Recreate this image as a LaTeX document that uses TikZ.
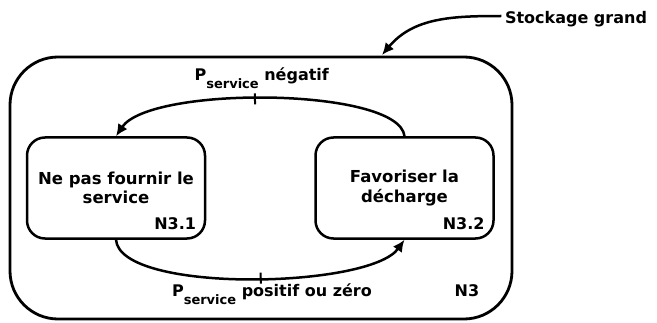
\documentclass[tikz,border=0pt]{standalone}
\usepackage{fontspec}
\setmainfont{DejaVu Sans}
\usetikzlibrary{arrows.meta,positioning}

% P with a lowered "service" index
\newcommand{\psrv}{P\raisebox{-8pt}{\fontsize{13}{13}\selectfont service}}

\begin{document}
\begin{tikzpicture}[x=1pt, y=1pt,
  font=\fontsize{16}{19.5}\selectfont\bfseries,
  node distance=10mm and 108pt,
  outerbox/.style={draw, line width=2.8pt, rounded corners=48pt,
                   minimum width=502pt, minimum height=262pt},
  mode/.style={draw, line width=2.5pt, rounded corners=18pt, align=center,
               minimum width=178pt, minimum height=101pt, inner sep=2pt,
               font=\fontsize{16.5}{19.5}\selectfont\bfseries},
  tag/.style={anchor=south east, inner sep=10pt},
  cond/.style={inner sep=1pt},
  tickmark/.style={draw, line width=2pt, inner sep=0pt,
                   minimum width=0pt, minimum height=11pt},
  arr/.style={-{Latex[length=12pt, width=11pt]}, line width=2.5pt}]
  \useasboundingbox (0,0) rectangle (657,322);
  \node[outerbox] (n3) at (261,134) {};
  \node (n3-id) at (467,31) {N3};
  \node[mode] (ne) at (116,134) {Ne pas fournir le\\ service};
  \node[mode, right=of ne] (fav) {Favoriser la\\ décharge};
  \node[tag] (ne-id) at (ne.south east) {N3.1};
  \node[tag] (fav-id) at (fav.south east) {N3.2};
  % transitions
  \draw[arr] (fav.north) .. controls +(-5,49) and +(34,51) .. (ne.north)
    node[tickmark, pos=0.54, sloped] (tneg) {};
  \node[cond, above=3pt of tneg, xshift=7pt] (neg) {\psrv{} négatif};
  \draw[arr] (ne.south) .. controls +(4,-54) and +(-35,-49) .. (fav.south)
    node[tickmark, pos=0.53, sloped] (tpos) {};
  \node[cond, below=-2pt of tpos, xshift=11pt] (pos) {\psrv{} positif ou zéro};
  % storage size
  \node (stock) at (576,303) {Stockage grand};
  \coordinate (hook) at (382,267);
  \draw[arr] ([yshift=3pt]stock.west) to[out=180, in=50] (hook);
\end{tikzpicture}
\end{document}
